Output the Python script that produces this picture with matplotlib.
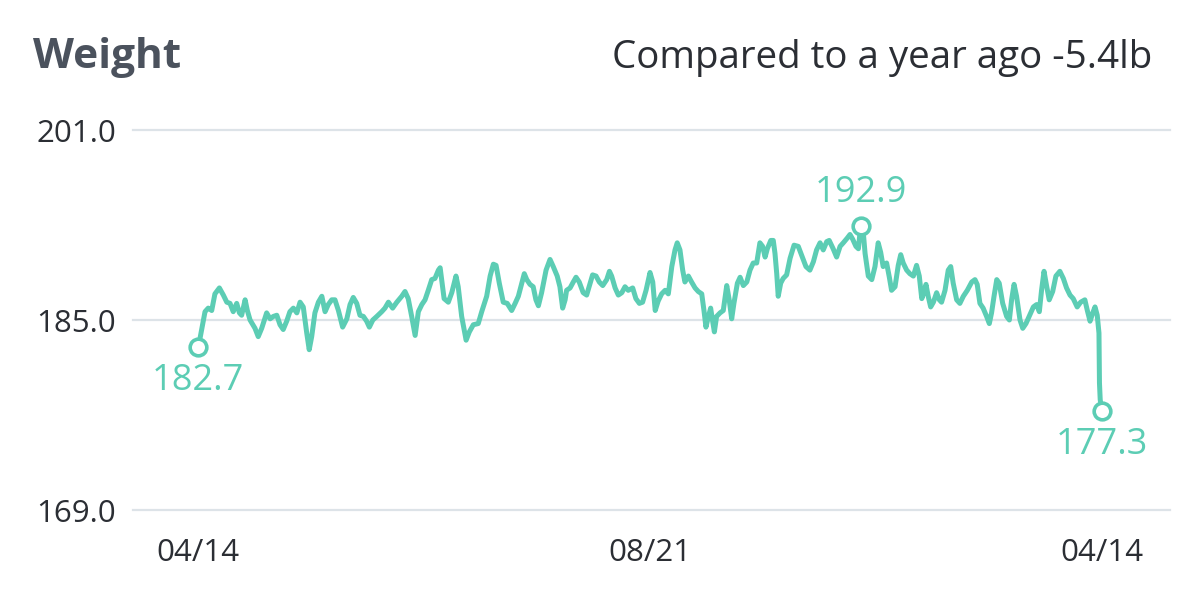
import matplotlib
matplotlib.use("Agg")
import matplotlib.pyplot as plt
import numpy as np

# ---- data ----
title = "Weight"
subtitle = "Compared to a year ago -5.4lb"
x_tick_labels = ["04/14", "08/21", "04/14"]
y_ticks = [169.0, 185.0, 201.0]

days = [
    0.0, 2.7, 4.0, 5.4, 6.7, 8.5, 10.1, 11.5, 12.8, 14.1, 15.5, 16.6, 17.5, 18.9, 19.8,
    20.9, 22.9, 24.2, 25.6, 27.6, 29.0, 30.3, 31.7, 33.0, 34.3, 35.7, 37.0, 38.4, 39.8,
    41.1, 42.4, 43.8, 44.8, 45.8, 47.1, 48.5, 49.9, 51.2, 52.5, 53.9, 55.2, 56.6, 58.3,
    60.0, 61.3, 62.6, 64.0, 65.3, 66.7, 68.0, 69.1, 70.5, 72.1, 74.1, 75.4, 76.8, 78.5,
    80.2, 82.2, 83.5, 84.8, 86.2, 87.6, 88.9, 90.3, 91.6, 92.9, 94.3, 95.6, 97.0, 97.7,
    98.3, 99.3, 101.0, 102.4, 104.1, 105.0, 106.4, 108.2, 109.5, 111.1, 113.1, 114.5,
    116.5, 117.9, 119.2, 120.3, 121.6, 123.2, 124.8, 126.6, 128.0, 129.3, 130.7, 131.7,
    132.7, 134.0, 135.3, 136.4, 137.4, 138.7, 140.5, 142.1, 143.4, 145.0, 146.1, 147.2,
    148.2, 148.8, 150.2, 151.5, 152.6, 153.9, 155.5, 156.9, 158.3, 159.3, 160.7, 162.0,
    163.4, 165.0, 166.1, 167.0, 168.4, 169.7, 171.1, 172.4, 173.7, 175.5, 176.8, 178.2,
    179.5, 180.9, 182.5, 183.6, 184.6, 185.8, 187.2, 188.6, 189.9, 191.3, 192.6, 193.5,
    194.6, 195.7, 196.6, 198.0, 199.3, 200.7, 202.0, 203.4, 204.3, 205.1, 206.1, 207.0,
    207.8, 208.5, 209.4, 210.8, 212.1, 213.5, 214.5, 215.5, 216.4, 217.8, 218.9, 220.2,
    221.6, 222.9, 224.2, 225.6, 226.9, 228.0, 229.0, 229.9, 231.3, 232.3, 233.0, 233.7,
    234.3, 235.3, 236.3, 237.7, 239.1, 240.7, 242.4, 244.2, 245.5, 247.1, 248.5, 249.8,
    251.2, 252.5, 253.9, 254.9, 256.5, 257.9, 259.3, 260.6, 262.2, 263.3, 264.4, 265.7,
    266.7, 267.6, 268.7, 269.4, 270.7, 272.1, 273.4, 274.7, 275.7, 276.7, 278.1, 279.2,
    280.1, 281.5, 282.8, 283.8, 284.8, 286.2, 287.5, 288.9, 290.2, 291.3, 292.3, 293.2,
    294.0, 294.9, 295.9, 297.0, 298.3, 299.4, 300.3, 301.7, 303.0, 304.0, 305.0, 306.4,
    307.7, 309.1, 310.7, 312.5, 313.8, 314.7, 315.8, 317.1, 318.5, 319.6, 320.5, 321.5,
    322.6, 323.6, 325.0, 326.6, 327.7, 328.6, 329.6, 330.6, 332.0, 333.1, 334.4, 335.7,
    337.4, 338.7, 339.8, 340.7, 341.7, 342.8, 343.8, 345.2, 346.5, 348.1, 349.5, 350.8,
    352.2, 353.5, 355.1, 356.5, 358.2, 359.2, 360.3, 361.4, 362.3, 363.2, 363.9, 364.0,
    364.1, 364.4, 365.0,
]

weights = [
    182.7, 185.7, 186.0, 185.8, 187.2, 187.7, 187.1, 186.5, 186.4, 185.7, 186.4, 185.6, 185.4, 186.7, 185.8,
    185.0, 184.3, 183.6, 184.3, 185.6, 185.1, 185.3, 185.4, 184.6, 184.2, 184.9, 185.7, 186.0, 185.6,
    186.5, 186.1, 183.9, 182.5, 183.6, 185.6, 186.5, 187.0, 185.7, 186.3, 186.7, 186.7, 185.8, 184.4,
    185.1, 186.3, 186.9, 186.4, 185.4, 185.3, 184.9, 184.4, 185.0, 185.3, 185.7, 186.0, 186.5, 186.0,
    186.5, 187.0, 187.4, 186.8, 185.3, 183.7, 185.7, 186.3, 186.7, 187.5, 188.4, 188.5, 189.2, 189.4,
    188.4, 186.8, 186.5, 187.3, 188.7, 187.8, 185.3, 183.3, 184.0, 184.6, 184.7, 185.7,
    187.0, 188.7, 189.7, 189.6, 188.1, 186.5, 186.4, 185.8, 186.4, 187.0, 188.1, 188.9,
    188.4, 188.0, 187.8, 186.7, 186.2, 187.3, 189.2, 190.1, 189.5, 188.7, 187.8, 186.0,
    186.7, 187.5, 187.7, 188.2, 188.6, 188.2, 187.3, 187.1, 188.1, 188.8, 188.7, 188.2,
    187.9, 188.4, 189.1, 188.7, 187.7, 187.1, 187.3, 187.8, 187.5, 187.7, 186.8, 186.4,
    186.5, 187.5, 189.0, 188.2, 185.8, 186.6, 187.2, 187.5, 187.2, 189.5, 190.9, 191.5,
    190.9, 189.2, 188.2, 188.7, 188.2, 187.7, 187.4, 187.2, 185.8, 184.4, 185.3, 186.0,
    184.9, 184.0, 185.3, 185.6, 185.8, 187.9, 186.7, 185.1, 186.4, 188.1, 188.6, 187.9,
    188.2, 189.2, 189.8, 189.8, 191.5, 191.2, 190.3, 191.0, 191.7, 191.7, 190.6, 188.9,
    187.0, 188.1, 188.5, 188.8, 190.2, 191.3, 191.2, 190.2, 189.5, 189.2, 189.9, 190.9,
    191.5, 190.9, 191.6, 191.7, 191.0, 190.3, 191.2, 191.5, 191.9, 192.2, 191.8, 191.2,
    191.0, 192.9, 192.3, 190.6, 188.7, 188.4, 189.5, 191.5, 190.7, 189.5, 189.8, 188.6,
    187.5, 187.8, 189.6, 190.5, 189.8, 189.2, 188.9, 188.7, 189.6, 188.7, 186.8, 187.3,
    188.0, 187.0, 186.1, 186.5, 187.3, 186.7, 186.5, 187.5, 189.2, 189.5, 188.1, 186.7,
    186.4, 187.0, 187.5, 188.2, 188.4, 188.0, 186.4, 186.0, 185.3, 184.7, 185.6, 187.0,
    188.4, 188.1, 186.4, 185.3, 185.0, 186.7, 188.0, 187.0, 185.0, 184.3, 184.7, 185.3,
    186.1, 186.3, 185.7, 187.5, 189.1, 187.8, 186.7, 187.4, 188.7, 189.1, 188.5, 187.7,
    187.1, 186.8, 186.1, 186.5, 186.7, 185.8, 184.9, 185.6, 186.1, 185.4, 183.9, 181.9,
    179.7, 178.3, 177.3,
]

# ---- style ----
TEAL = "#5ccdb4"
GRID = "#dde3e8"
DARK = "#2b2e34"
TITLE_C = "#4b525d"
FONT = "Open Sans"

plt.rcParams["font.family"] = [FONT, "DejaVu Sans"]

fig = plt.figure(figsize=(12, 6), dpi=100)
fig.patch.set_facecolor("white")
ax = fig.add_axes([133 / 1200, 1 - 510 / 600, (1170 - 133) / 1200, 380 / 600])

x = np.array(days)
y = np.array(weights)

ax.plot(x, y, color=TEAL, lw=3.6, solid_joinstyle="round", solid_capstyle="round", zorder=3)

idx = [0, int(np.argmax(y)), len(y) - 1]
ax.plot(x[idx], y[idx], "o", ms=12, mfc="white", mec=TEAL, mew=2.6, zorder=4)
offsets = [-24, 24, -24]
for i, off in zip(idx, offsets):
    ax.annotate(f"{y[i]:.1f}", (x[i], y[i]), xytext=(0, off), textcoords="offset points",
                ha="center", va="center", color=TEAL, fontsize=26, zorder=5)

ax.set_xlim(-26.4, 392.6)
ax.set_ylim(169, 201)
ax.set_yticks(y_ticks)
ax.set_yticklabels([f"{v:.1f}" for v in y_ticks])
ax.set_xticks([0, 182.5, 365])
ax.set_xticklabels(x_tick_labels)
ax.grid(axis="y", color=GRID, lw=1.6, zorder=0)
ax.set_axisbelow(True)
for s in ax.spines.values():
    s.set_visible(False)
ax.tick_params(axis="both", length=0, labelsize=22.5, labelcolor=DARK)
ax.tick_params(axis="y", pad=12)
ax.tick_params(axis="x", pad=20)
for gl in ax.get_ygridlines():
    gl.set_clip_on(False)

fig.text(33 / 1200, 1 - 68 / 600, title, fontsize=30.5, fontweight="bold", color=TITLE_C,
         ha="left", va="baseline")
fig.text(1152 / 1200, 1 - 68 / 600, subtitle, fontsize=27.7, color=DARK,
         ha="right", va="baseline")

fig.savefig("out.png", dpi=100, facecolor="white")
